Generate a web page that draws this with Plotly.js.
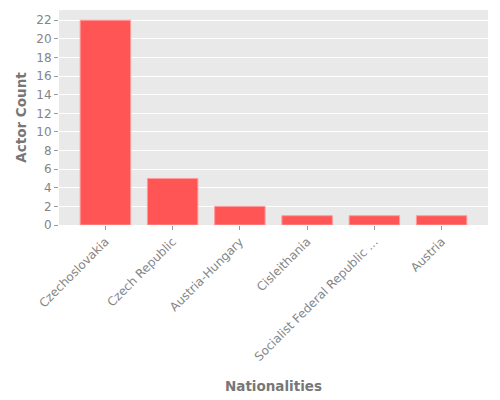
<!DOCTYPE html>
<html><head><meta charset="utf-8">
<script src="https://cdn.plot.ly/plotly-3.0.1.min.js"></script>
<style>body{margin:0;padding:0;}#c{width:500px;height:400px;}</style>
</head><body><div id="c"></div>
<script>
const nationalities = ["Czechoslovakia", "Czech Republic", "Austria-Hungary", "Cisleithania", "Socialist Federal Republic ...", "Austria"];
const actorCounts = [22, 5, 2, 1, 1, 1];
const yTicks = [0, 2, 4, 6, 8, 10, 12, 14, 16, 18, 20, 22];

const trace = {
  type: 'bar',
  x: nationalities,
  y: actorCounts,
  marker: {color: '#ff5555', line: {color: '#ff9a9a', width: 1}},
  width: 0.75,
  hoverinfo: 'x+y'
};

const layout = {
  width: 500, height: 400,
  margin: {l: 59, r: 12, t: 10, b: 175},
  paper_bgcolor: '#ffffff',
  plot_bgcolor: '#e9e9e9',
  font: {family: 'DejaVu Sans, sans-serif', color: '#858585', size: 12},
  showlegend: false,
  xaxis: {
    type: 'category',
    range: [-0.69, 5.69],
    tickangle: -45,
    ticks: 'outside', ticklen: 4, tickcolor: '#999999', tickwidth: 1,
    showgrid: false, zeroline: false, showline: false,
    tickfont: {size: 12, color: '#858585'},
    title: {text: 'Nationalities', font: {size: 13.5, color: '#777777', weight: 'bold'}, standoff: 18}
  },
  yaxis: {
    range: [0, 23.1],
    tickvals: yTicks,
    ticktext: yTicks.map(String),
    ticks: 'outside', ticklen: 4, tickcolor: '#999999', tickwidth: 1,
    showgrid: true, gridcolor: '#ffffff', gridwidth: 1,
    zeroline: false, showline: false,
    tickfont: {size: 12, color: '#858585'},
    title: {text: 'Actor Count', font: {size: 13.5, color: '#777777', weight: 'bold'}, standoff: 6}
  }
};

Plotly.newPlot('c', [trace], layout, {displayModeBar: false, staticPlot: true});
</script></body></html>
